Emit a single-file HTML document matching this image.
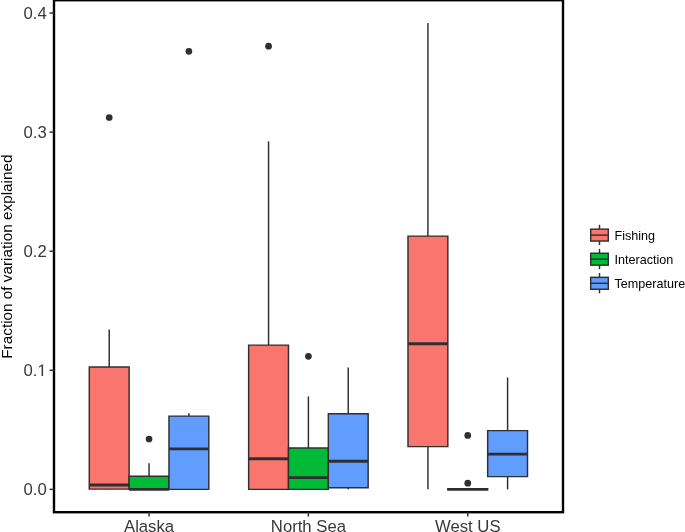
<!DOCTYPE html>
<html><head><meta charset="utf-8"><style>
html,body{margin:0;padding:0;background:#fff;}
body{width:685px;height:532px;overflow:hidden;}
svg{display:block;will-change:transform;font-family:"Liberation Sans",sans-serif;}
</style></head><body>
<svg width="685" height="532" viewBox="0 0 685 532">
<rect width="685" height="532" fill="#fff"/>
<g>
<circle cx="109.21" cy="117.5" r="3.35" fill="#2f2f2f"/>
<line x1="109.21" y1="329.5" x2="109.21" y2="367.0" stroke="#2f2f2f" stroke-width="1.45"/>
<line x1="109.21" y1="489.1" x2="109.21" y2="489.35" stroke="#2f2f2f" stroke-width="1.45"/>
<path d="M89.29 367.0H129.13V489.1H89.29Z" fill="#F8766D" stroke="#2f2f2f" stroke-width="1.45"/>
<line x1="89.29" y1="485.0" x2="129.13" y2="485.0" stroke="#2f2f2f" stroke-width="2.9"/>
<circle cx="149.05" cy="439.0" r="3.35" fill="#2f2f2f"/>
<line x1="149.05" y1="463.2" x2="149.05" y2="476.2" stroke="#2f2f2f" stroke-width="1.45"/>
<path d="M129.13 476.2H168.97V489.35H129.13Z" fill="#00BA38" stroke="#2f2f2f" stroke-width="1.45"/>
<line x1="129.13" y1="489.35" x2="168.97" y2="489.35" stroke="#2f2f2f" stroke-width="2.9"/>
<circle cx="188.89" cy="51.3" r="3.35" fill="#2f2f2f"/>
<line x1="188.89" y1="413.3" x2="188.89" y2="416.1" stroke="#2f2f2f" stroke-width="1.45"/>
<path d="M168.97 416.1H208.81V489.35H168.97Z" fill="#619CFF" stroke="#2f2f2f" stroke-width="1.45"/>
<line x1="168.97" y1="448.9" x2="208.81" y2="448.9" stroke="#2f2f2f" stroke-width="2.9"/>
<circle cx="268.56" cy="46.2" r="3.35" fill="#2f2f2f"/>
<line x1="268.56" y1="141.3" x2="268.56" y2="345.1" stroke="#2f2f2f" stroke-width="1.45"/>
<path d="M248.64 345.1H288.48V489.35H248.64Z" fill="#F8766D" stroke="#2f2f2f" stroke-width="1.45"/>
<line x1="248.64" y1="458.8" x2="288.48" y2="458.8" stroke="#2f2f2f" stroke-width="2.9"/>
<circle cx="308.40" cy="356.3" r="3.35" fill="#2f2f2f"/>
<line x1="308.40" y1="396.4" x2="308.40" y2="448.0" stroke="#2f2f2f" stroke-width="1.45"/>
<path d="M288.48 448.0H328.32V489.35H288.48Z" fill="#00BA38" stroke="#2f2f2f" stroke-width="1.45"/>
<line x1="288.48" y1="477.6" x2="328.32" y2="477.6" stroke="#2f2f2f" stroke-width="2.9"/>
<line x1="348.24" y1="367.6" x2="348.24" y2="413.7" stroke="#2f2f2f" stroke-width="1.45"/>
<line x1="348.24" y1="487.8" x2="348.24" y2="489.35" stroke="#2f2f2f" stroke-width="1.45"/>
<path d="M328.32 413.7H368.16V487.8H328.32Z" fill="#619CFF" stroke="#2f2f2f" stroke-width="1.45"/>
<line x1="328.32" y1="461.2" x2="368.16" y2="461.2" stroke="#2f2f2f" stroke-width="2.9"/>
<line x1="427.91" y1="23.1" x2="427.91" y2="236.1" stroke="#2f2f2f" stroke-width="1.45"/>
<line x1="427.91" y1="446.6" x2="427.91" y2="489.35" stroke="#2f2f2f" stroke-width="1.45"/>
<path d="M407.99 236.1H447.83V446.6H407.99Z" fill="#F8766D" stroke="#2f2f2f" stroke-width="1.45"/>
<line x1="407.99" y1="343.7" x2="447.83" y2="343.7" stroke="#2f2f2f" stroke-width="2.9"/>
<circle cx="467.75" cy="435.4" r="3.35" fill="#2f2f2f"/>
<circle cx="467.75" cy="483.2" r="3.35" fill="#2f2f2f"/>
<path d="M447.83 489.35H487.67V489.35H447.83Z" fill="#00BA38" stroke="#2f2f2f" stroke-width="1.45"/>
<line x1="447.11" y1="489.35" x2="488.39" y2="489.35" stroke="#2f2f2f" stroke-width="2.9"/>
<line x1="507.59" y1="377.5" x2="507.59" y2="430.6" stroke="#2f2f2f" stroke-width="1.45"/>
<line x1="507.59" y1="476.6" x2="507.59" y2="489.35" stroke="#2f2f2f" stroke-width="1.45"/>
<path d="M487.67 430.6H527.51V476.6H487.67Z" fill="#619CFF" stroke="#2f2f2f" stroke-width="1.45"/>
<line x1="487.67" y1="454.1" x2="527.51" y2="454.1" stroke="#2f2f2f" stroke-width="2.9"/>
</g>
<rect x="54" y="0.2" width="509" height="512.0" fill="none" stroke="#000" stroke-width="2.4"/>
<g>
<line x1="49.5" y1="489.35" x2="54" y2="489.35" stroke="#2f2f2f" stroke-width="1.45"/>
<line x1="49.5" y1="370.26" x2="54" y2="370.26" stroke="#2f2f2f" stroke-width="1.45"/>
<line x1="49.5" y1="251.18" x2="54" y2="251.18" stroke="#2f2f2f" stroke-width="1.45"/>
<line x1="49.5" y1="132.09" x2="54" y2="132.09" stroke="#2f2f2f" stroke-width="1.45"/>
<line x1="49.5" y1="13.00" x2="54" y2="13.00" stroke="#2f2f2f" stroke-width="1.45"/>
<line x1="149.05" y1="512" x2="149.05" y2="516.6" stroke="#2f2f2f" stroke-width="1.45"/>
<line x1="308.40" y1="512" x2="308.40" y2="516.6" stroke="#2f2f2f" stroke-width="1.45"/>
<line x1="467.75" y1="512" x2="467.75" y2="516.6" stroke="#2f2f2f" stroke-width="1.45"/>
</g>
<g fill="#383838" font-size="16.7">
<text x="46.7" y="495.25" text-anchor="end">0.0</text>
<text x="37.41" y="376.16" text-anchor="end">0.</text>
<path transform="translate(37.41,376) scale(0.008154,-0.008154)" d="M515 0V1237L197 1010V1180L530 1409H696V0Z"/>
<text x="46.7" y="257.07" text-anchor="end">0.2</text>
<text x="46.7" y="137.99" text-anchor="end">0.3</text>
<text x="46.7" y="18.90" text-anchor="end">0.4</text>
<text x="149.05" y="531.6" text-anchor="middle">Alaska</text>
<text x="308.40" y="531.6" text-anchor="middle">North Sea</text>
<text x="467.75" y="531.6" text-anchor="middle">West US</text>
</g>
<text transform="translate(11.7,256.6) rotate(-90)" text-anchor="middle" font-size="15.32" fill="#000">Fraction of variation explained</text>
<g font-size="12.6" fill="#000">
<line x1="599.5" y1="224.80" x2="599.5" y2="229.15" stroke="#2f2f2f" stroke-width="1.45"/>
<line x1="599.5" y1="241.05" x2="599.5" y2="245.10" stroke="#2f2f2f" stroke-width="1.45"/>
<rect x="590.7" y="229.15" width="17.6" height="11.9" fill="#F8766D" stroke="#2f2f2f" stroke-width="1.45"/>
<line x1="590.7" y1="235.10" x2="608.3" y2="235.10" stroke="#2f2f2f" stroke-width="1.45"/>
<text x="614.5" y="239.90">Fishing</text>
<line x1="599.5" y1="248.90" x2="599.5" y2="253.25" stroke="#2f2f2f" stroke-width="1.45"/>
<line x1="599.5" y1="265.15" x2="599.5" y2="269.20" stroke="#2f2f2f" stroke-width="1.45"/>
<rect x="590.7" y="253.25" width="17.6" height="11.9" fill="#00BA38" stroke="#2f2f2f" stroke-width="1.45"/>
<line x1="590.7" y1="259.20" x2="608.3" y2="259.20" stroke="#2f2f2f" stroke-width="1.45"/>
<text x="614.5" y="264.00">Interaction</text>
<line x1="599.5" y1="273.00" x2="599.5" y2="277.35" stroke="#2f2f2f" stroke-width="1.45"/>
<line x1="599.5" y1="289.25" x2="599.5" y2="293.30" stroke="#2f2f2f" stroke-width="1.45"/>
<rect x="590.7" y="277.35" width="17.6" height="11.9" fill="#619CFF" stroke="#2f2f2f" stroke-width="1.45"/>
<line x1="590.7" y1="283.30" x2="608.3" y2="283.30" stroke="#2f2f2f" stroke-width="1.45"/>
<text x="614.5" y="288.10">Temperature</text>
</g>
</svg>
</body></html>
